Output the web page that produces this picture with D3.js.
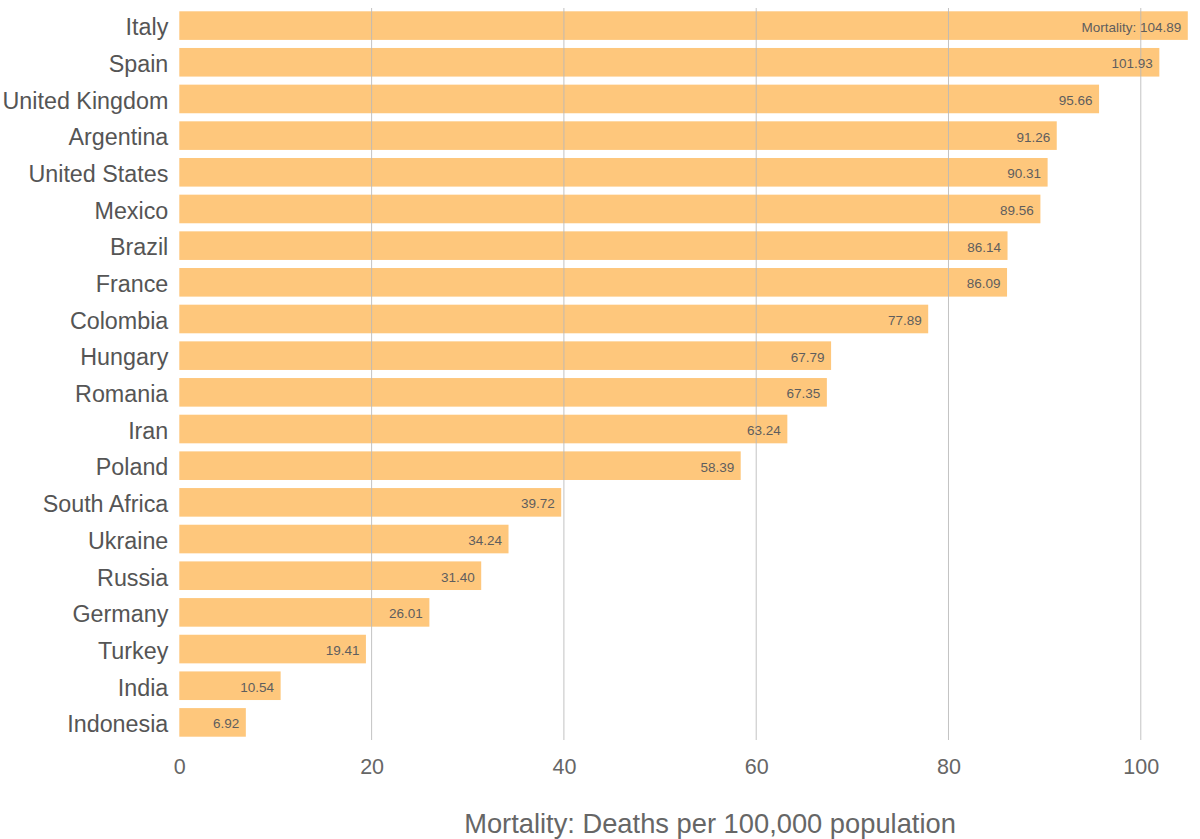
<!DOCTYPE html>
<html>
<head>
<meta charset="utf-8">
<script src="https://cdn.jsdelivr.net/npm/d3@7"></script>
<style>
  body { margin: 0; background: #fff; }
  text { font-family: "Liberation Sans", Arial, sans-serif; }
</style>
</head>
<body>
<div id="chart"></div>
<script>
/* Mortality bar chart */

const countries = ["Italy", "Spain", "United Kingdom", "Argentina", "United States", "Mexico",
  "Brazil", "France", "Colombia", "Hungary", "Romania", "Iran", "Poland", "South Africa",
  "Ukraine", "Russia", "Germany", "Turkey", "India", "Indonesia"];
const mortality = [104.89, 101.93, 95.66, 91.26, 90.31, 89.56, 86.14, 86.09, 77.89, 67.79,
  67.35, 63.24, 58.39, 39.72, 34.24, 31.40, 26.01, 19.41, 10.54, 6.92];
const xTicks = [0, 20, 40, 60, 80, 100];

const height = 839,
    width = 1200,
    margin = ({ top: 8, right: 12, bottom: 99, left: 179.3 });

const data = countries.map((c, i) => ({ country: c, value: mortality[i] }));

const svg = d3.select("#chart")
    .append("svg")
    .attr("width", width)
    .attr("height", height);

let x = d3.scaleLinear()
    .domain([0, d3.max(mortality)])
    .range([margin.left, 1187.8]);

let y = d3.scaleBand()
    .domain(countries)
    .range([margin.top, height - margin.bottom])
    .paddingInner(0.22)
    .paddingOuter(0.09);

/* bars */
svg.append("g")
  .selectAll("rect")
  .data(data)
  .join("rect")
    .attr("x", x(0))
    .attr("y", d => y(d.country))
    .attr("width", d => x(d.value) - x(0))
    .attr("height", y.bandwidth())
    .attr("fill", "#fec77c");

/* grid lines on top of bars, no line at zero */
svg.append("g")
  .selectAll("line")
  .data(xTicks.filter(d => d > 0))
  .join("line")
    .attr("x1", d => x(d))
    .attr("x2", d => x(d))
    .attr("y1", margin.top)
    .attr("y2", height - margin.bottom)
    .attr("stroke", "#b9b9b9")
    .attr("stroke-opacity", 0.85)
    .attr("stroke-width", 1);

/* value labels */
svg.append("g")
  .selectAll("text")
  .data(data)
  .join("text")
    .attr("x", d => x(d.value) - 6.5)
    .attr("y", d => y(d.country) + y.bandwidth() / 2)
    .attr("dy", "0.45em")
    .attr("text-anchor", "end")
    .attr("font-size", 13.5)
    .attr("fill", "#5e5e5e")
    .text((d, i) => (i === 0 ? "Mortality: " : "") + d.value.toFixed(2));

/* country labels */
svg.append("g")
  .attr("transform", `translate(${margin.left},0)`)
  .call(d3.axisLeft(y).tickSize(0).tickPadding(11))
  .call(g => g.select(".domain").remove())
  .call(g => g.selectAll("text")
      .attr("font-size", 23.3)
      .attr("dy", "0.42em")
      .attr("fill", "#555")
      .attr("font-family", "Liberation Sans, Arial, sans-serif"));

/* x tick labels */
svg.append("g")
  .attr("transform", `translate(0,${height - margin.bottom})`)
  .call(d3.axisBottom(x).tickValues(xTicks).tickSize(0).tickPadding(19))
  .call(g => g.select(".domain").remove())
  .call(g => g.selectAll("text")
      .attr("font-size", 21.5)
      .attr("fill", "#666")
      .attr("font-family", "Liberation Sans, Arial, sans-serif"));

/* axis title */
svg.append("text")
  .attr("x", 710)
  .attr("y", 833)
  .attr("text-anchor", "middle")
  .attr("font-size", 27.3)
  .attr("fill", "#666")
  .text("Mortality: Deaths per 100,000 population");
</script>
</body>
</html>
